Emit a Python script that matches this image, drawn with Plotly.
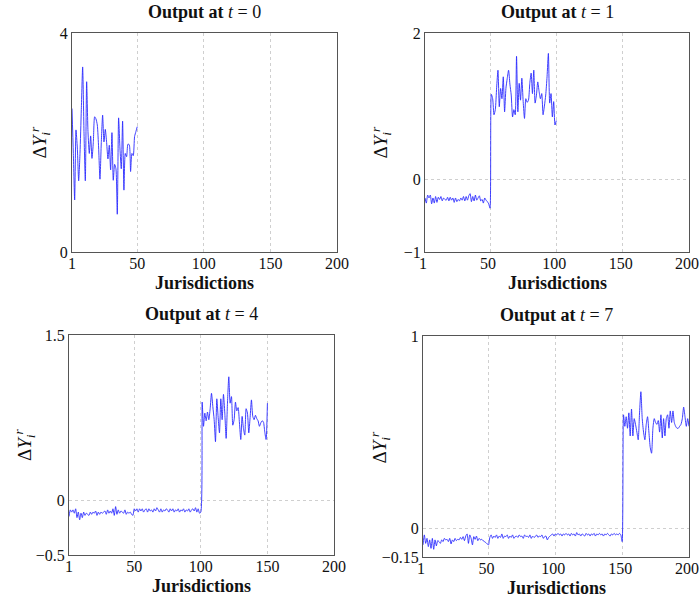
import plotly.graph_objects as go

# ---------------- data ----------------
jur_t0 = list(range(1, 51))
out_t0 = [2.62, 1.80, 0.95, 2.23, 1.90, 1.30, 1.80, 2.60, 3.38, 2.20,
          1.30, 3.11, 2.20, 1.80, 2.12, 1.71, 2.00, 2.47, 2.43, 2.32,
          1.90, 1.33, 2.00, 2.50, 2.01, 2.24, 2.00, 1.70, 1.95, 1.50,
          2.18, 1.31, 1.60, 1.52, 0.69, 2.45, 1.90, 1.52, 2.39, 1.13,
          1.80, 1.74, 1.97, 1.96, 1.47, 1.80, 1.76, 2.11, 2.20, 2.29]

jur_t1 = list(range(1, 101))
out_t1 = [-0.26, -0.33, -0.22, -0.26, -0.22, -0.34, -0.26, -0.33, -0.24, -0.32,
          -0.25, -0.28, -0.24, -0.30, -0.26, -0.28, -0.29, -0.25, -0.30, -0.25,
          -0.29, -0.26, -0.32, -0.26, -0.31, -0.28, -0.30, -0.26, -0.29, -0.24,
          -0.30, -0.24, -0.29, -0.23, -0.20, -0.31, -0.24, -0.30, -0.22, -0.29,
          -0.26, -0.23, -0.30, -0.28, -0.33, -0.26, -0.29, -0.31, -0.34, -0.40,
          1.16, 1.10, 0.88, 0.95, 1.25, 1.49, 0.99, 1.24, 1.10, 1.40,
          0.92, 1.24, 1.38, 1.49, 1.30, 1.15, 0.85, 0.95, 0.88, 1.68,
          0.92, 1.31, 1.08, 1.38, 1.06, 0.83, 1.10, 1.05, 1.08, 1.31,
          1.45, 1.17, 1.49, 1.04, 1.15, 1.33, 1.20, 1.10, 1.17, 0.88,
          1.00, 1.15, 1.40, 1.72, 1.04, 1.17, 0.85, 1.06, 0.74, 0.80]

jur_t4 = list(range(1, 151))
out_t4 = [-0.15, -0.09, -0.11, -0.09, -0.12, -0.08, -0.16, -0.11, -0.18, -0.12,
          -0.16, -0.11, -0.14, -0.12, -0.13, -0.14, -0.11, -0.13, -0.11, -0.12,
          -0.10, -0.14, -0.11, -0.13, -0.11, -0.12, -0.11, -0.10, -0.13, -0.09,
          -0.12, -0.10, -0.12, -0.08, -0.14, -0.06, -0.13, -0.09, -0.12, -0.10,
          -0.11, -0.12, -0.09, -0.13, -0.11, -0.12, -0.11, -0.13, -0.14, -0.08,
          -0.10, -0.08, -0.11, -0.08, -0.10, -0.08, -0.11, -0.09, -0.08, -0.11,
          -0.08, -0.10, -0.09, -0.11, -0.08, -0.10, -0.07, -0.09, -0.11, -0.08,
          -0.11, -0.09, -0.10, -0.08, -0.09, -0.11, -0.08, -0.10, -0.08, -0.11,
          -0.09, -0.10, -0.08, -0.11, -0.09, -0.10, -0.08, -0.11, -0.09, -0.10,
          -0.08, -0.11, -0.09, -0.08, -0.10, -0.07, -0.11, -0.08, -0.12, -0.11,
          0.89, 0.67, 0.79, 0.72, 0.80, 0.73, 0.83, 0.97, 0.85, 0.73,
          0.53, 0.92, 0.75, 0.61, 0.92, 0.73, 0.96, 0.79, 0.56, 0.88,
          1.12, 0.88, 0.94, 0.68, 0.73, 0.89, 0.81, 0.84, 0.70, 0.55,
          0.76, 0.65, 0.59, 0.83, 0.79, 0.61, 0.75, 0.91, 0.76, 0.73,
          0.77, 0.74, 0.72, 0.67, 0.70, 0.72, 0.71, 0.62, 0.55, 0.88]

jur_t7 = list(range(1, 201))
out_t7 = [-0.087, -0.035, -0.079, -0.053, -0.096, -0.061, -0.105, -0.053, -0.110, -0.061,
          -0.092, -0.065, -0.070, -0.079, -0.061, -0.070, -0.053, -0.061, -0.058, -0.070,
          -0.053, -0.082, -0.061, -0.070, -0.053, -0.065, -0.058, -0.061, -0.048, -0.058,
          -0.044, -0.065, -0.041, -0.030, -0.079, -0.035, -0.053, -0.087, -0.044, -0.058,
          -0.041, -0.065, -0.053, -0.061, -0.058, -0.065, -0.070, -0.075, -0.082, -0.087,
          -0.048, -0.035, -0.053, -0.041, -0.048, -0.035, -0.053, -0.041, -0.048, -0.030,
          -0.053, -0.041, -0.044, -0.035, -0.053, -0.041, -0.048, -0.035, -0.053, -0.044,
          -0.041, -0.048, -0.035, -0.044, -0.041, -0.053, -0.035, -0.044, -0.041, -0.048,
          -0.035, -0.053, -0.041, -0.048, -0.044, -0.035, -0.048, -0.041, -0.044, -0.035,
          -0.053, -0.044, -0.041, -0.061, -0.048, -0.041, -0.035, -0.030, -0.041, -0.030,
          -0.035, -0.027, -0.035, -0.030, -0.041, -0.030, -0.035, -0.027, -0.035, -0.030,
          -0.041, -0.027, -0.035, -0.030, -0.041, -0.023, -0.035, -0.030, -0.041, -0.030,
          -0.035, -0.041, -0.027, -0.035, -0.030, -0.041, -0.030, -0.035, -0.027, -0.041,
          -0.030, -0.035, -0.027, -0.035, -0.030, -0.041, -0.030, -0.035, -0.027, -0.035,
          -0.041, -0.030, -0.035, -0.027, -0.035, -0.030, -0.035, -0.027, -0.035, -0.070,
          0.59, 0.53, 0.58, 0.52, 0.60, 0.48, 0.62, 0.48, 0.57, 0.54,
          0.50, 0.46, 0.60, 0.71, 0.57, 0.50, 0.46, 0.54, 0.58, 0.50,
          0.42, 0.39, 0.52, 0.57, 0.55, 0.54, 0.56, 0.50, 0.59, 0.47,
          0.57, 0.48, 0.57, 0.59, 0.52, 0.61, 0.55, 0.61, 0.55, 0.53,
          0.52, 0.52, 0.53, 0.54, 0.57, 0.63, 0.58, 0.53, 0.57, 0.53]

x_ticks = [1, 50, 100, 150, 200]
titles = ["0", "1", "4", "7"]
y_ranges = [[0, 4], [-1, 2], [-0.5, 1.5], [-0.15, 1]]
y_tickvals = [[0, 4], [-1, 0, 2], [-0.5, 0, 1.5], [-0.15, 0, 1]]
y_ticktext = [["0", "4"], ["\u22121", "0", "2"], ["\u22120.5", "0", "1.5"], ["\u22120.15", "0", "1"]]

# ---------------- figure ----------------
W, H = 700, 603
FONT = "Liberation Serif"
# plot boxes in screen pixels: left, right, top, bottom
boxes = [(72, 337, 33, 252), (425, 689, 33, 252), (69, 334, 335, 555), (423, 689, 336, 557)]
ylab_x = [40, 381, 24, 380]

def px(xs):
    return xs / W

def py(ys):
    return 1 - ys / H

fig = go.Figure()
series = [(jur_t0, out_t0), (jur_t1, out_t1), (jur_t4, out_t4), (jur_t7, out_t7)]
for k, (xs, ys) in enumerate(series):
    sfx = "" if k == 0 else str(k + 1)
    fig.add_trace(go.Scatter(x=xs, y=ys, mode="lines",
                             line=dict(color="#2a2aff", width=0.9, shape="spline", smoothing=0.6),
                             xaxis="x" + sfx, yaxis="y" + sfx, showlegend=False, hoverinfo="skip"))

annotations = []
for k, (l, r, t, b) in enumerate(boxes):
    sfx = "" if k == 0 else str(k + 1)
    common = dict(showline=True, linecolor="#555555", linewidth=1, mirror=True,
                  showgrid=True, gridcolor="#cfcfcf", griddash="3px,3px", gridwidth=1,
                  zeroline=False, ticks="", automargin=False,
                  tickfont=dict(family=FONT, size=16, color="#111"))
    xextra = dict(ticklabelshift=-2) if k in (1, 3) else {}
    fig.layout["xaxis" + sfx] = dict(domain=[px(l), px(r)], anchor="y" + sfx,
                                     range=[1, 200], tickvals=x_ticks, ticklabelstandoff=-3,
                                     ticktext=[str(v) for v in x_ticks], **xextra, **common)
    fig.layout["yaxis" + sfx] = dict(domain=[py(b), py(t)], anchor="x" + sfx,
                                     range=y_ranges[k], tickvals=y_tickvals[k],
                                     ticktext=y_ticktext[k], **common)
    cx = (l + r) / 2
    annotations.append(dict(text="<b>Output at </b><i>t</i> = " + titles[k],
                            x=px(cx), y=py(t - 21), xref="paper", yref="paper",
                            showarrow=False, font=dict(family=FONT, size=18, color="#111"),
                            xanchor="center", yanchor="middle"))
    annotations.append(dict(text="<b>Jurisdictions</b>",
                            x=px(cx), y=py(b + 31), xref="paper", yref="paper",
                            showarrow=False, font=dict(family=FONT, size=18, color="#111"),
                            xanchor="center", yanchor="middle"))
    annotations.append(dict(text="\u0394<i>Y</i><sub><i>i</i></sub><sup><i>r</i></sup>",
                            x=px(ylab_x[k]), y=py((t + b) / 2), xref="paper", yref="paper",
                            showarrow=False, textangle=-90,
                            font=dict(family=FONT, size=19, color="#111"),
                            xanchor="center", yanchor="middle"))

fig.update_layout(width=W, height=H, margin=dict(l=0, r=0, t=0, b=0, autoexpand=False),
                  paper_bgcolor="white", plot_bgcolor="white",
                  annotations=annotations)

fig.write_html("out.html", config={"displayModeBar": False},
               post_script="document.body.style.margin='0px';document.body.style.overflow='hidden';")
